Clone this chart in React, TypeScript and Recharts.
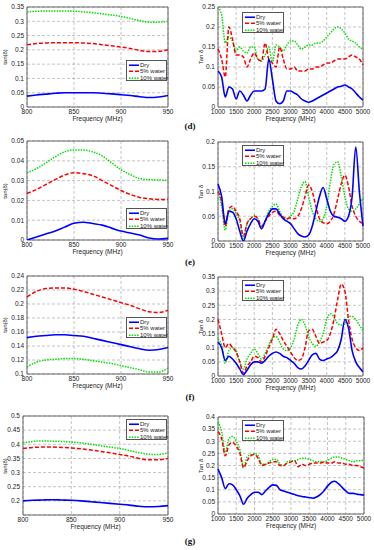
import React from "react";
import { LineChart, Line, XAxis, YAxis, CartesianGrid, ReferenceArea } from "recharts";

// frequencies (MHz)
const freqNarrow = [800, 810, 820, 830, 840, 850, 860, 870, 880, 890, 900, 910, 920, 930, 940, 950];
const freqWide = [
  1000, 1100, 1200, 1300, 1400, 1500, 1600, 1700, 1800, 1900, 2000, 2100, 2200, 2300, 2400, 2500, 2600, 2700, 2800, 2900, 3000,
  3100, 3200, 3300, 3400, 3500, 3600, 3700, 3800, 3900, 4000, 4100, 4200, 4300, 4400, 4500, 4600, 4700, 4800, 4900, 5000
];

const narrowTicks = [800, 850, 900, 950];
const wideTicks = [1000, 1500, 2000, 2500, 3000, 3500, 4000, 4500, 5000];

// (d) narrow band
const dryDn = [0.038, 0.042, 0.045, 0.048, 0.05, 0.05, 0.05, 0.05, 0.048, 0.046, 0.043, 0.04, 0.036, 0.033, 0.035, 0.04];
const w5Dn = [0.218, 0.222, 0.224, 0.225, 0.225, 0.225, 0.224, 0.222, 0.218, 0.214, 0.21, 0.205, 0.198, 0.194, 0.195, 0.2];
const w10Dn = [0.333, 0.335, 0.336, 0.336, 0.336, 0.335, 0.333, 0.33, 0.326, 0.322, 0.317, 0.31, 0.302, 0.297, 0.297, 0.3];
const yTicksDn = [0, 0.05, 0.1, 0.15, 0.2, 0.25, 0.3, 0.35];

// (d) wide band
const dryDw = [
  0.09, 0.075, 0.025, 0.05, 0.045, 0.02, 0.04, 0.03, 0.015, 0.03, 0.04, 0.04, 0.04, 0.045, 0.12, 0.07, 0.015, 0.008, 0.015, 0.04, 0.04,
  0.035, 0.03, 0.02, 0.015, 0.012, 0.015, 0.02, 0.025, 0.03, 0.035, 0.04, 0.045, 0.05, 0.052, 0.055, 0.05, 0.045, 0.035, 0.025, 0.017
];
const w5Dw = [
  0.145, 0.12, 0.075, 0.2, 0.17, 0.13, 0.13, 0.125, 0.1, 0.12, 0.135, 0.12, 0.115, 0.16, 0.12, 0.11, 0.1, 0.15, 0.12, 0.095, 0.095,
  0.1, 0.09, 0.09, 0.09, 0.095, 0.095, 0.1, 0.1, 0.105, 0.11, 0.11, 0.115, 0.12, 0.12, 0.12, 0.125, 0.13, 0.125, 0.12, 0.105
];
const w10Dw = [
  0.25, 0.23, 0.16, 0.175, 0.165, 0.14, 0.15, 0.14, 0.135, 0.15, 0.15, 0.12, 0.115, 0.13, 0.15, 0.11, 0.155, 0.15, 0.14, 0.155, 0.165,
  0.165, 0.155, 0.145, 0.15, 0.155, 0.155, 0.16, 0.16, 0.165, 0.175, 0.185, 0.195, 0.2, 0.195, 0.185, 0.17, 0.165, 0.16, 0.15, 0.145
];
const yTicksDw = [0, 0.05, 0.1, 0.15, 0.2, 0.25];

// (e) narrow band
const dryEn = [0.0, 0.0015, 0.003, 0.0045, 0.0065, 0.0085, 0.009, 0.0083, 0.0075, 0.006, 0.0045, 0.0035, 0.0025, 0.001, 0.0005, 0.0008];
const w5En = [0.0235, 0.0255, 0.028, 0.0305, 0.0328, 0.034, 0.0335, 0.0325, 0.03, 0.0275, 0.025, 0.023, 0.0215, 0.0208, 0.0205, 0.0205];
const w10En = [0.034, 0.036, 0.039, 0.042, 0.0445, 0.0455, 0.0455, 0.0445, 0.0425, 0.039, 0.0355, 0.033, 0.031, 0.0305, 0.0303, 0.0302];
const yTicksEn = [0, 0.01, 0.02, 0.03, 0.04, 0.05];

// (e) wide band
const dryEw = [
  0.115, 0.09, 0.035, 0.06, 0.058, 0.045, 0.02, 0.0, 0.02, 0.035, 0.045, 0.04, 0.025, 0.04, 0.055, 0.065, 0.065, 0.055, 0.045, 0.04, 0.035,
  0.025, 0.015, 0.01, 0.008, 0.012, 0.03, 0.06, 0.09, 0.108, 0.085, 0.06, 0.05, 0.048, 0.045, 0.04, 0.05, 0.09, 0.19, 0.1, 0.03
];
const w5Ew = [
  0.1, 0.08, 0.03, 0.065, 0.07, 0.06, 0.045, 0.01, 0.035, 0.045, 0.05, 0.045, 0.03, 0.04, 0.05, 0.058, 0.06, 0.052, 0.048, 0.045, 0.047,
  0.045, 0.05, 0.065, 0.09, 0.113, 0.1, 0.07, 0.045, 0.037, 0.035, 0.04, 0.055, 0.085, 0.115, 0.133, 0.11, 0.07, 0.05, 0.04, 0.035
];
const w10Ew = [
  0.1, 0.07, 0.022, 0.06, 0.065, 0.055, 0.04, 0.005, 0.035, 0.045, 0.052, 0.045, 0.025, 0.04, 0.06, 0.07, 0.075, 0.06, 0.048, 0.045, 0.05,
  0.06, 0.085, 0.11, 0.12, 0.09, 0.06, 0.045, 0.04, 0.045, 0.07, 0.12, 0.155, 0.16, 0.13, 0.09, 0.065, 0.06, 0.065, 0.075, 0.087
];
const yTicksEw = [0, 0.05, 0.1, 0.15, 0.2];

// (f) narrow band
const dryFn = [0.152, 0.154, 0.155, 0.156, 0.156, 0.155, 0.154, 0.151, 0.148, 0.145, 0.142, 0.139, 0.136, 0.134, 0.135, 0.138];
const w5Fn = [0.21, 0.218, 0.222, 0.223, 0.223, 0.221, 0.218, 0.214, 0.21, 0.206, 0.202, 0.198, 0.193, 0.189, 0.188, 0.191];
const w10Fn = [0.11, 0.117, 0.12, 0.121, 0.122, 0.122, 0.121, 0.119, 0.117, 0.115, 0.112, 0.109, 0.106, 0.103, 0.103, 0.108];
const yTicksFn = [0.1, 0.12, 0.14, 0.16, 0.18, 0.2, 0.22, 0.24];

// (f) wide band
const dryFw = [
  0.12, 0.1, 0.055, 0.07, 0.06, 0.045, 0.025, 0.005, 0.02, 0.04, 0.05, 0.05, 0.045, 0.055, 0.07, 0.08, 0.085, 0.08, 0.07, 0.065, 0.055,
  0.045, 0.03, 0.025, 0.035, 0.055, 0.075, 0.08, 0.06, 0.055, 0.06, 0.065, 0.075, 0.09, 0.13, 0.2, 0.17, 0.09, 0.05, 0.03, 0.015
];
const w5Fw = [
  0.2, 0.15, 0.1, 0.115, 0.1, 0.085, 0.05, 0.01, 0.035, 0.05, 0.07, 0.065, 0.05, 0.07, 0.1, 0.13, 0.165, 0.15, 0.125, 0.105, 0.085,
  0.065, 0.055, 0.06, 0.1, 0.16, 0.165, 0.14, 0.115, 0.12, 0.125, 0.15, 0.2, 0.27, 0.325, 0.3, 0.2, 0.13, 0.1, 0.09, 0.1
];
const w10Fw = [
  0.13, 0.11, 0.045, 0.09, 0.1, 0.09, 0.05, 0.025, 0.06, 0.08, 0.095, 0.08, 0.06, 0.08, 0.11, 0.135, 0.14, 0.12, 0.095, 0.09, 0.1,
  0.13, 0.18, 0.2, 0.18, 0.14, 0.115, 0.105, 0.12, 0.15, 0.2, 0.22, 0.21, 0.185, 0.18, 0.185, 0.21, 0.21, 0.2, 0.18, 0.16
];
const yTicksFw = [0, 0.05, 0.1, 0.15, 0.2, 0.25, 0.3, 0.35];

// (g) narrow band
const dryGn = [0.2, 0.202, 0.203, 0.204, 0.203, 0.202, 0.2, 0.197, 0.194, 0.191, 0.188, 0.185, 0.181, 0.179, 0.18, 0.183];
const w5Gn = [0.385, 0.389, 0.39, 0.39, 0.389, 0.387, 0.384, 0.38, 0.375, 0.37, 0.364, 0.358, 0.35, 0.345, 0.345, 0.35];
const w10Gn = [0.405, 0.41, 0.412, 0.411, 0.41, 0.408, 0.405, 0.4, 0.395, 0.39, 0.385, 0.378, 0.37, 0.365, 0.364, 0.37];
const yTicksGn = [0.2, 0.25, 0.3, 0.35, 0.4, 0.45, 0.5];

// (g) wide band
const dryGw = [
  0.185, 0.15, 0.105, 0.125, 0.12, 0.1, 0.075, 0.04, 0.065, 0.08, 0.09, 0.09, 0.08, 0.095, 0.11, 0.12, 0.118, 0.1, 0.095, 0.09, 0.085,
  0.08, 0.075, 0.072, 0.07, 0.068, 0.065, 0.07, 0.08, 0.095, 0.115, 0.13, 0.135, 0.125, 0.11, 0.095, 0.085, 0.085, 0.082, 0.08, 0.078
];
const w5Gw = [
  0.34, 0.31, 0.24, 0.285, 0.295, 0.28, 0.25, 0.19, 0.22, 0.24, 0.245, 0.23, 0.2, 0.205, 0.21, 0.215, 0.215, 0.2, 0.2, 0.21, 0.215,
  0.22, 0.195, 0.205, 0.2, 0.205, 0.21, 0.21, 0.21, 0.215, 0.21, 0.21, 0.215, 0.21, 0.21, 0.205, 0.205, 0.2, 0.2, 0.195, 0.19
];
const w10Gw = [
  0.38, 0.34, 0.255, 0.31, 0.32, 0.3, 0.265, 0.195, 0.235, 0.245, 0.25, 0.24, 0.205, 0.205, 0.215, 0.225, 0.225, 0.205, 0.2, 0.215, 0.22,
  0.22, 0.225, 0.23, 0.23, 0.225, 0.22, 0.215, 0.215, 0.215, 0.22, 0.23, 0.235, 0.235, 0.23, 0.225, 0.22, 0.215, 0.22, 0.22, 0.222
];
const yTicksGw = [0, 0.05, 0.1, 0.15, 0.2, 0.25, 0.3, 0.35, 0.4];

const seriesNames = ["Dry", "5% water", "10% water"];
const panelLabels = ["(d)", "(e)", "(f)", "(g)"];

const FONT = "'Liberation Sans', Arial, sans-serif";
const BLUE = "#0000ff";
const RED = "#ff0000";
const GREEN = "#00e000";

type PanelProps = {
  x: number;
  y: number;
  w: number;
  h: number;
  freq: number[];
  dry: number[];
  w5: number[];
  w10: number[];
  xTicks: number[];
  yTicks: number[];
  yMin?: number;
  yLabel: string;
  yLabelX: number;
};

function Panel({ x, y, w, h, freq, dry, w5, w10, xTicks, yTicks, yMin, yLabel, yLabelX }: PanelProps) {
  const YW = 22;
  const TOP = 4;
  const RIGHT = 10;
  const XH = 12;
  const data = freq.map((f, i) => ({ f, dry: dry[i], w5: w5[i], w10: w10[i] }));
  const x0 = xTicks[0];
  const x1 = xTicks[xTicks.length - 1];
  const y0 = yMin ?? yTicks[0];
  const y1 = yTicks[yTicks.length - 1];
  const tick = { fontSize: 6.5, fill: "#222", fontFamily: FONT };

  return (
    <>
      <div style={{ position: "absolute", left: x - YW, top: y - TOP }}>
        <LineChart width={YW + w + RIGHT} height={TOP + h + XH} data={data} margin={{ top: TOP, right: RIGHT, bottom: 0, left: 0 }}>
          <CartesianGrid stroke="#aaa" strokeDasharray="3 2" strokeWidth={0.7} />
          <XAxis
            dataKey="f"
            type="number"
            domain={[x0, x1]}
            ticks={xTicks}
            interval={0}
            height={XH}
            tick={tick}
            tickLine={false}
            tickSize={1}
            tickMargin={1}
            axisLine={false}
          />
          <YAxis
            type="number"
            domain={[y0, y1]}
            ticks={yTicks}
            interval={0}
            width={YW}
            tick={tick}
            tickLine={false}
            tickSize={2}
            tickMargin={1}
            axisLine={false}
            allowDataOverflow
          />
          <ReferenceArea x1={x0} x2={x1} y1={y0} y2={y1} fill="none" stroke="#444" strokeWidth={0.8} fillOpacity={0} />
          <Line type="monotone" dataKey="w10" stroke={GREEN} strokeWidth={1.5} strokeDasharray="1.5 1.2" dot={false} isAnimationActive={false} />
          <Line type="monotone" dataKey="w5" stroke={RED} strokeWidth={1.5} strokeDasharray="4 2" dot={false} isAnimationActive={false} />
          <Line type="monotone" dataKey="dry" stroke={BLUE} strokeWidth={1.6} dot={false} isAnimationActive={false} />
        </LineChart>
      </div>
      <div
        style={{
          position: "absolute",
          left: x,
          width: w,
          top: y + h + 8,
          textAlign: "center",
          fontSize: 6.5,
          fontFamily: FONT,
          color: "#222",
          lineHeight: "8px",
          whiteSpace: "nowrap"
        }}
      >
        Frequency (MHz)
      </div>
      <div
        style={{
          position: "absolute",
          left: yLabelX - 30,
          top: y + h / 2 - 4,
          width: 60,
          textAlign: "center",
          fontSize: 6,
          fontFamily: FONT,
          color: "#222",
          lineHeight: "8px",
          whiteSpace: "nowrap",
          transform: "rotate(-90deg)"
        }}
      >
        {yLabel}
      </div>
    </>
  );
}

function LegendBox({ x, y, w }: { x: number; y: number; w: number }) {
  const styles = [
    { color: BLUE, dash: undefined },
    { color: RED, dash: "4 2" },
    { color: GREEN, dash: "1.5 1.2" }
  ];
  return (
    <div
      style={{
        position: "absolute",
        left: x,
        top: y,
        width: w,
        height: 21,
        boxSizing: "border-box",
        border: "0.8px solid #555",
        background: "#fff",
        paddingTop: 0.5,
        fontFamily: FONT,
        fontSize: 6,
        color: "#222"
      }}
    >
      {seriesNames.map((name, i) => (
        <div key={name} style={{ position: "relative", height: 6.5, whiteSpace: "nowrap" }}>
          <svg width={10} height={6.5} style={{ position: "absolute", left: 2, top: 0 }}>
            <line x1={0} y1={3.25} x2={10} y2={3.25} stroke={styles[i].color} strokeWidth={1.6} strokeDasharray={styles[i].dash} />
          </svg>
          <span style={{ position: "absolute", left: 13, top: 0, lineHeight: "6.5px" }}>{name}</span>
        </div>
      ))}
    </div>
  );
}

const rowTops = [7, 141, 276, 416];
const rowHeights = [100, 99, 98, 99];
const rightTops = [7, 142, 277, 417];
const rightHeights = [100, 99, 99, 97];
const labelTops = [121, 257, 392, 536];
const leftLegendTops = [60, 208, 317, 419];
const rightLegendTops = [12, 145, 280, 420];

export default function App() {
  return (
    <div style={{ position: "absolute", left: 0, top: 0, width: 374, height: 550, background: "#fff", overflow: "hidden" }}>
      <Panel x={27} y={rowTops[0]} w={141} h={rowHeights[0]} freq={freqNarrow} dry={dryDn} w5={w5Dn} w10={w10Dn} xTicks={narrowTicks} yTicks={yTicksDn} yLabel="tan(δ)" yLabelX={5} />
      <Panel x={218} y={rightTops[0]} w={145} h={rightHeights[0]} freq={freqWide} dry={dryDw} w5={w5Dw} w10={w10Dw} xTicks={wideTicks} yTicks={yTicksDw} yLabel="Tan δ" yLabelX={201} />
      <Panel x={27} y={rowTops[1]} w={141} h={rowHeights[1]} freq={freqNarrow} dry={dryEn} w5={w5En} w10={w10En} xTicks={narrowTicks} yTicks={yTicksEn} yLabel="tan(δ)" yLabelX={5} />
      <Panel x={218} y={rightTops[1]} w={145} h={rightHeights[1]} freq={freqWide} dry={dryEw} w5={w5Ew} w10={w10Ew} xTicks={wideTicks} yTicks={yTicksEw} yLabel="Tan δ" yLabelX={201} />
      <Panel x={27} y={rowTops[2]} w={141} h={rowHeights[2]} freq={freqNarrow} dry={dryFn} w5={w5Fn} w10={w10Fn} xTicks={narrowTicks} yTicks={yTicksFn} yLabel="tan(δ)" yLabelX={5} />
      <Panel x={218} y={rightTops[2]} w={145} h={rightHeights[2]} freq={freqWide} dry={dryFw} w5={w5Fw} w10={w10Fw} xTicks={wideTicks} yTicks={yTicksFw} yLabel="Tan δ" yLabelX={201} />
      <Panel x={23} y={rowTops[3]} w={145} h={rowHeights[3]} freq={freqNarrow} dry={dryGn} w5={w5Gn} w10={w10Gn} xTicks={narrowTicks} yTicks={yTicksGn} yMin={0.15} yLabel="tan(δ)" yLabelX={5} />
      <Panel x={218} y={rightTops[3]} w={146} h={rightHeights[3]} freq={freqWide} dry={dryGw} w5={w5Gw} w10={w10Gw} xTicks={wideTicks} yTicks={yTicksGw} yLabel="Tan δ" yLabelX={201} />

      {leftLegendTops.map((t, i) => (
        <LegendBox key={"l" + i} x={126} y={t} w={41} />
      ))}
      {rightLegendTops.map((t, i) => (
        <LegendBox key={"r" + i} x={242} y={t} w={42} />
      ))}

      {panelLabels.map((lab, i) => (
        <div
          key={lab}
          style={{
            position: "absolute",
            left: 176,
            width: 28,
            top: labelTops[i],
            textAlign: "center",
            fontFamily: "'Liberation Serif', 'Times New Roman', serif",
            fontWeight: "bold",
            fontSize: 9,
            lineHeight: "11px",
            color: "#111"
          }}
        >
          {lab}
        </div>
      ))}
    </div>
  );
}
